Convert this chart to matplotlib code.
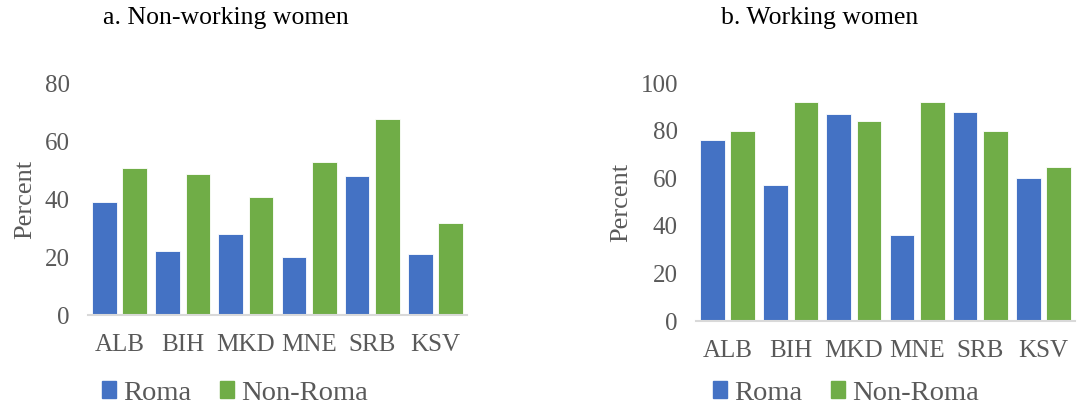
import numpy as np
import matplotlib
matplotlib.use('Agg')
import matplotlib.pyplot as plt
from matplotlib.patches import Patch

countries = ['ALB', 'BIH', 'MKD', 'MNE', 'SRB', 'KSV']
nonwork_roma = [39, 22, 28, 20, 48, 21]
nonwork_nonroma = [51, 49, 41, 53, 68, 32]
work_roma = [76, 57, 87, 36, 88, 60]
work_nonroma = [80, 92, 84, 92, 80, 64.5]

BLUE = '#4472C4'
GREEN = '#70AD47'
GREY = '#595959'

plt.rcParams['font.family'] = ['Liberation Serif', 'DejaVu Serif']

W, H = 1077, 408
fig = plt.figure(figsize=(W / 100, H / 100), dpi=100)


def panel(rect, roma, nonroma, ymax, title, title_x, leg_x):
    ax = fig.add_axes([rect[0] / W, 1 - rect[3] / H, (rect[2] - rect[0]) / W, (rect[3] - rect[1]) / H])
    x = np.arange(len(countries))
    ax.bar(x - 0.24, roma, 0.39, color=BLUE, edgecolor='white', linewidth=0.6)
    ax.bar(x + 0.24, nonroma, 0.39, color=GREEN, edgecolor='white', linewidth=0.6)
    ax.set_xlim(-0.5, len(countries) - 0.5)
    ax.set_ylim(0, ymax)
    ax.set_yticks(np.arange(0, ymax + 1, 20))
    ax.set_xticks(x)
    ax.set_xticklabels(countries)
    for s in ['top', 'right', 'left']:
        ax.spines[s].set_visible(False)
    ax.spines['bottom'].set_color('#D9D9D9')
    ax.spines['bottom'].set_linewidth(1.5)
    ax.tick_params(length=0, labelsize=18, labelcolor=GREY)
    ax.tick_params(axis='x', pad=14)
    ax.tick_params(axis='y', pad=13)
    ax.set_ylabel('Percent', fontsize=19, color=GREY, labelpad=6)
    fig.text(title_x / W, 1 - 18 / H, title, fontsize=18.5, color='black', ha='center', va='center')
    handles = [Patch(color=BLUE, label='Roma'), Patch(color=GREEN, label='Non-Roma')]
    fig.legend(handles=handles, loc='center', bbox_to_anchor=(leg_x / W, 1 - 393 / H), ncol=2,
               frameon=False, fontsize=20.5, labelcolor=GREY, handlelength=0.5, handleheight=0.5,
               handletextpad=0.25, columnspacing=1.0)
    return ax


panel((88, 84, 467, 315), nonwork_roma, nonwork_nonroma, 80, 'a. Non-working women', 226, 235)
panel((696, 83, 1075, 321), work_roma, work_nonroma, 100, 'b. Working women', 820, 846)

fig.savefig('out.png', dpi=100)
